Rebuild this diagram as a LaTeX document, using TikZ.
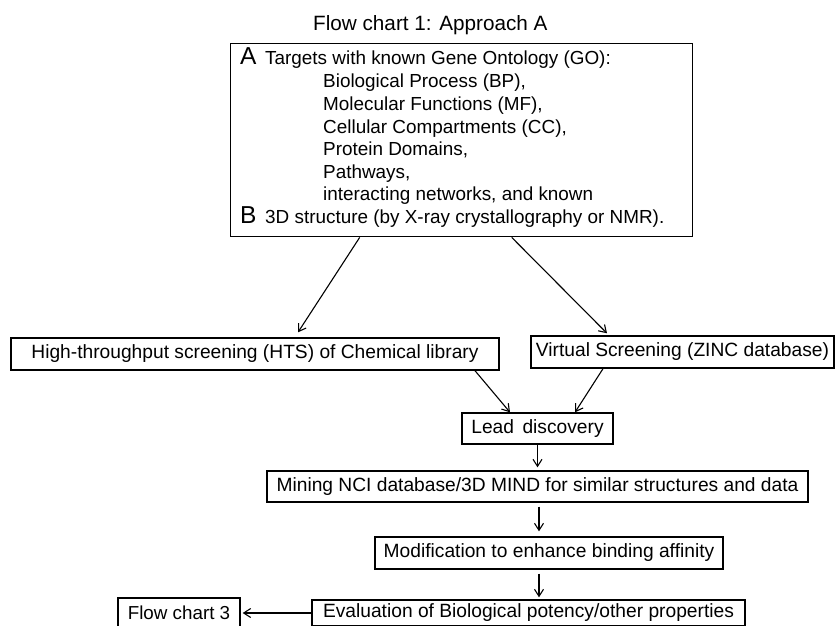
\documentclass[tikz,border=0pt]{standalone}
\usepackage{fontspec}
\setmainfont{Liberation Sans}
\usetikzlibrary{arrows.meta}
\begin{document}
\begin{tikzpicture}[x=1pt,y=-1pt,
  boxf/.style={font=\fontsize{19.2}{22}\selectfont},
  box/.style={draw, line width=1.4pt, inner sep=0pt, boxf},
  txt/.style={inner sep=0pt, anchor=base west, font=\fontsize{18.9}{21}\selectfont},
  big/.style={inner sep=0pt, anchor=base west, font=\fontsize{24.5}{24}\selectfont},
  arr/.style={-{Straight Barb[length=7pt,width=9pt]}, line width=1.1pt}]
\clip (0,0) rectangle (835,626);
\fill[white] (0,0) rectangle (835,626);
% title
\node[inner sep=0pt, anchor=base west, font=\fontsize{20.7}{22}\selectfont] (title) at (313,31) {Flow chart 1: Approach A};
% main box
\node[draw, line width=1.4pt, inner sep=0pt, minimum width=462pt, minimum height=193pt, anchor=north west] (tgt) at (230,43) {};
\node[big] (la) at (240,65) {A};
\node[txt] (l1) at (265,65) {Targets with known Gene Ontology (GO):};
\node[txt] (l2) at (323,88) {Biological Process (BP),};
\node[txt] (l3) at (323,110.5) {Molecular Functions (MF),};
\node[txt] (l4) at (323,133) {Cellular Compartments (CC),};
\node[txt] (l5) at (323,155.5) {Protein Domains,};
\node[txt] (l6) at (323,178) {Pathways,};
\node[txt] (l7) at (323,200.5) {interacting networks, and known};
\node[big] (lb) at (240,223) {B};
\node[txt] (l8) at (265,223) {3D structure (by X-ray crystallography or NMR).};
% boxes
\node[box, minimum width=488pt, minimum height=32pt] (hts) at (255,354) {High-throughput screening (HTS) of Chemical library};
\node[box, minimum width=303pt, minimum height=32pt] (vs) at (682.5,352) {Virtual Screening (ZINC database)};
\node[box, minimum width=151pt, minimum height=31pt] (lead) at (537.5,428.5) {Lead\, discovery};
\node[box, minimum width=541pt, minimum height=31pt] (mine) at (537.5,486.5) {Mining NCI database/3D MIND for similar structures and data};
\node[box, minimum width=348pt, minimum height=32pt] (mod) at (549,553) {Modification to enhance binding affinity};
\node[box, minimum width=433pt, minimum height=26pt] (eval) at (528.5,613) {Evaluation of Biological potency/other properties};
\node[box, minimum width=122pt, minimum height=30pt, font=\fontsize{18.8}{22}\selectfont] (fc3) at (179,613) {Flow chart 3};
% arrows
\draw[arr] ([xshift=-102pt]tgt.south) -- ([xshift=43pt,yshift=5pt]hts.north);
\draw[arr] ([xshift=50pt]tgt.south) -- ([xshift=-75.5pt,yshift=2pt]vs.north);
\draw[arr] ([xshift=220pt]hts.south) -- ([xshift=-27.5pt]lead.north);
\draw[arr] ([xshift=-79.5pt]vs.south) -- ([xshift=37.5pt]lead.north);
\draw[arr] (lead.south) -- ([yshift=3pt]mine.north);
\draw[arr] ([xshift=1.5pt,yshift=-4pt]mine.south) -- ([xshift=-10pt,yshift=5pt]mod.north);
\draw[arr] ([xshift=-10pt,yshift=-4pt]mod.south) -- ([xshift=10.5pt,yshift=2pt]eval.north);
\draw[arr] (eval.west) -- ([xshift=2pt]fc3.east);
\end{tikzpicture}
\end{document}
